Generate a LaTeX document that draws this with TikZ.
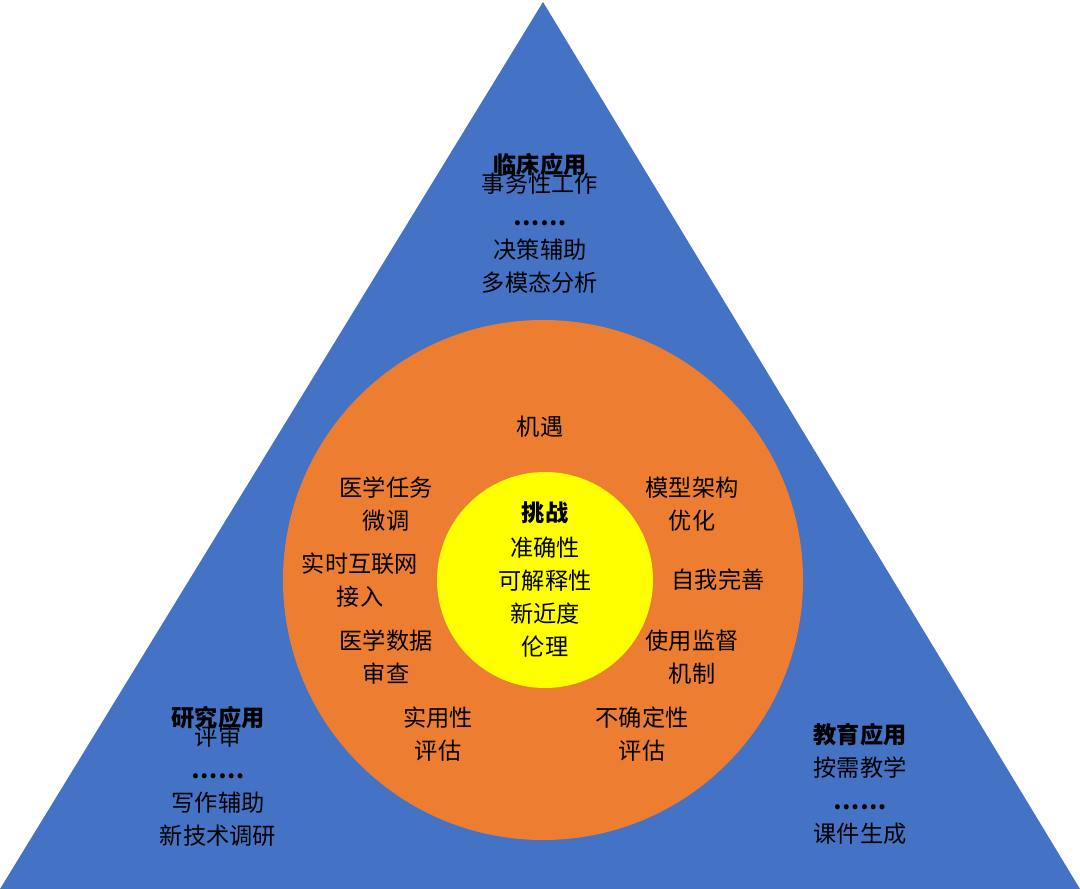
\documentclass[tikz,border=0pt]{standalone}
\usepackage{fontspec}
\setmainfont{Noto Sans CJK SC}
\usetikzlibrary{positioning}
\definecolor{triblue}{HTML}{4472C4}
\definecolor{ringorange}{HTML}{ED7D31}
\definecolor{coreyellow}{HTML}{FFFF00}

\begin{document}
\begin{tikzpicture}[x=0.01cm,y=-0.01cm,
    label/.style ={align=center, inner sep=0pt, font=\fontsize{6.6pt}{9.4pt}\selectfont},
    title/.style ={label, font=\fontsize{6.6pt}{9.4pt}\selectfont\bfseries}]
   \useasboundingbox (0,0) rectangle (1080,889);
   \coordinate (T) at (543,2);
   \coordinate (L) at (0,889);
   \coordinate (R) at (1080,889);
   \fill[triblue] (T) -- (L) -- (R) -- cycle;
   \fill[ringorange] (543,580) circle (260);
   \fill[coreyellow] (545,580) circle (108);
   % clinical
   \node[title] (clin) at (540,165) {临床应用};
   \node[label] (clinA) at (540,233) {事务性工作\\ \textbf{……}\\ 决策辅助\\ 多模态分析};
   % research
   \node[title] (res) at (218,718) {研究应用};
   \node[label] (resA) at (218,786) {评审\\ \textbf{……}\\ 写作辅助\\ 新技术调研};
   % education
   \node[title] (edu) at (860,735) {教育应用};
   \node[label] (eduA) at (860,801) {按需教学\\ \textbf{……}\\ 课件生成};
   % opportunities
   \node[label] (opp) at (540,427) {机遇};
   \node[label] (o1) at (386,504) {医学任务\\ 微调};
   \node[label] (o2) at (360,580) {实时互联网\\ 接入};
   \node[label] (o3) at (386,657) {医学数据\\ 审查};
   \node[label] (o4) at (438,734) {实用性\\ 评估};
   \node[label] (o5) at (642,734) {不确定性\\ 评估};
   \node[label] (o6) at (692,657) {使用监督\\ 机制};
   \node[label] (o7) at (718,580) {自我完善};
   \node[label] (o8) at (692,504) {模型架构\\ 优化};
   % challenges
   \node[title] (ch) at (545,513) {挑战};
   \node[label] (chA) at (545,597) {准确性\\ 可解释性\\ 新近度\\ 伦理};
\end{tikzpicture}
\end{document}
